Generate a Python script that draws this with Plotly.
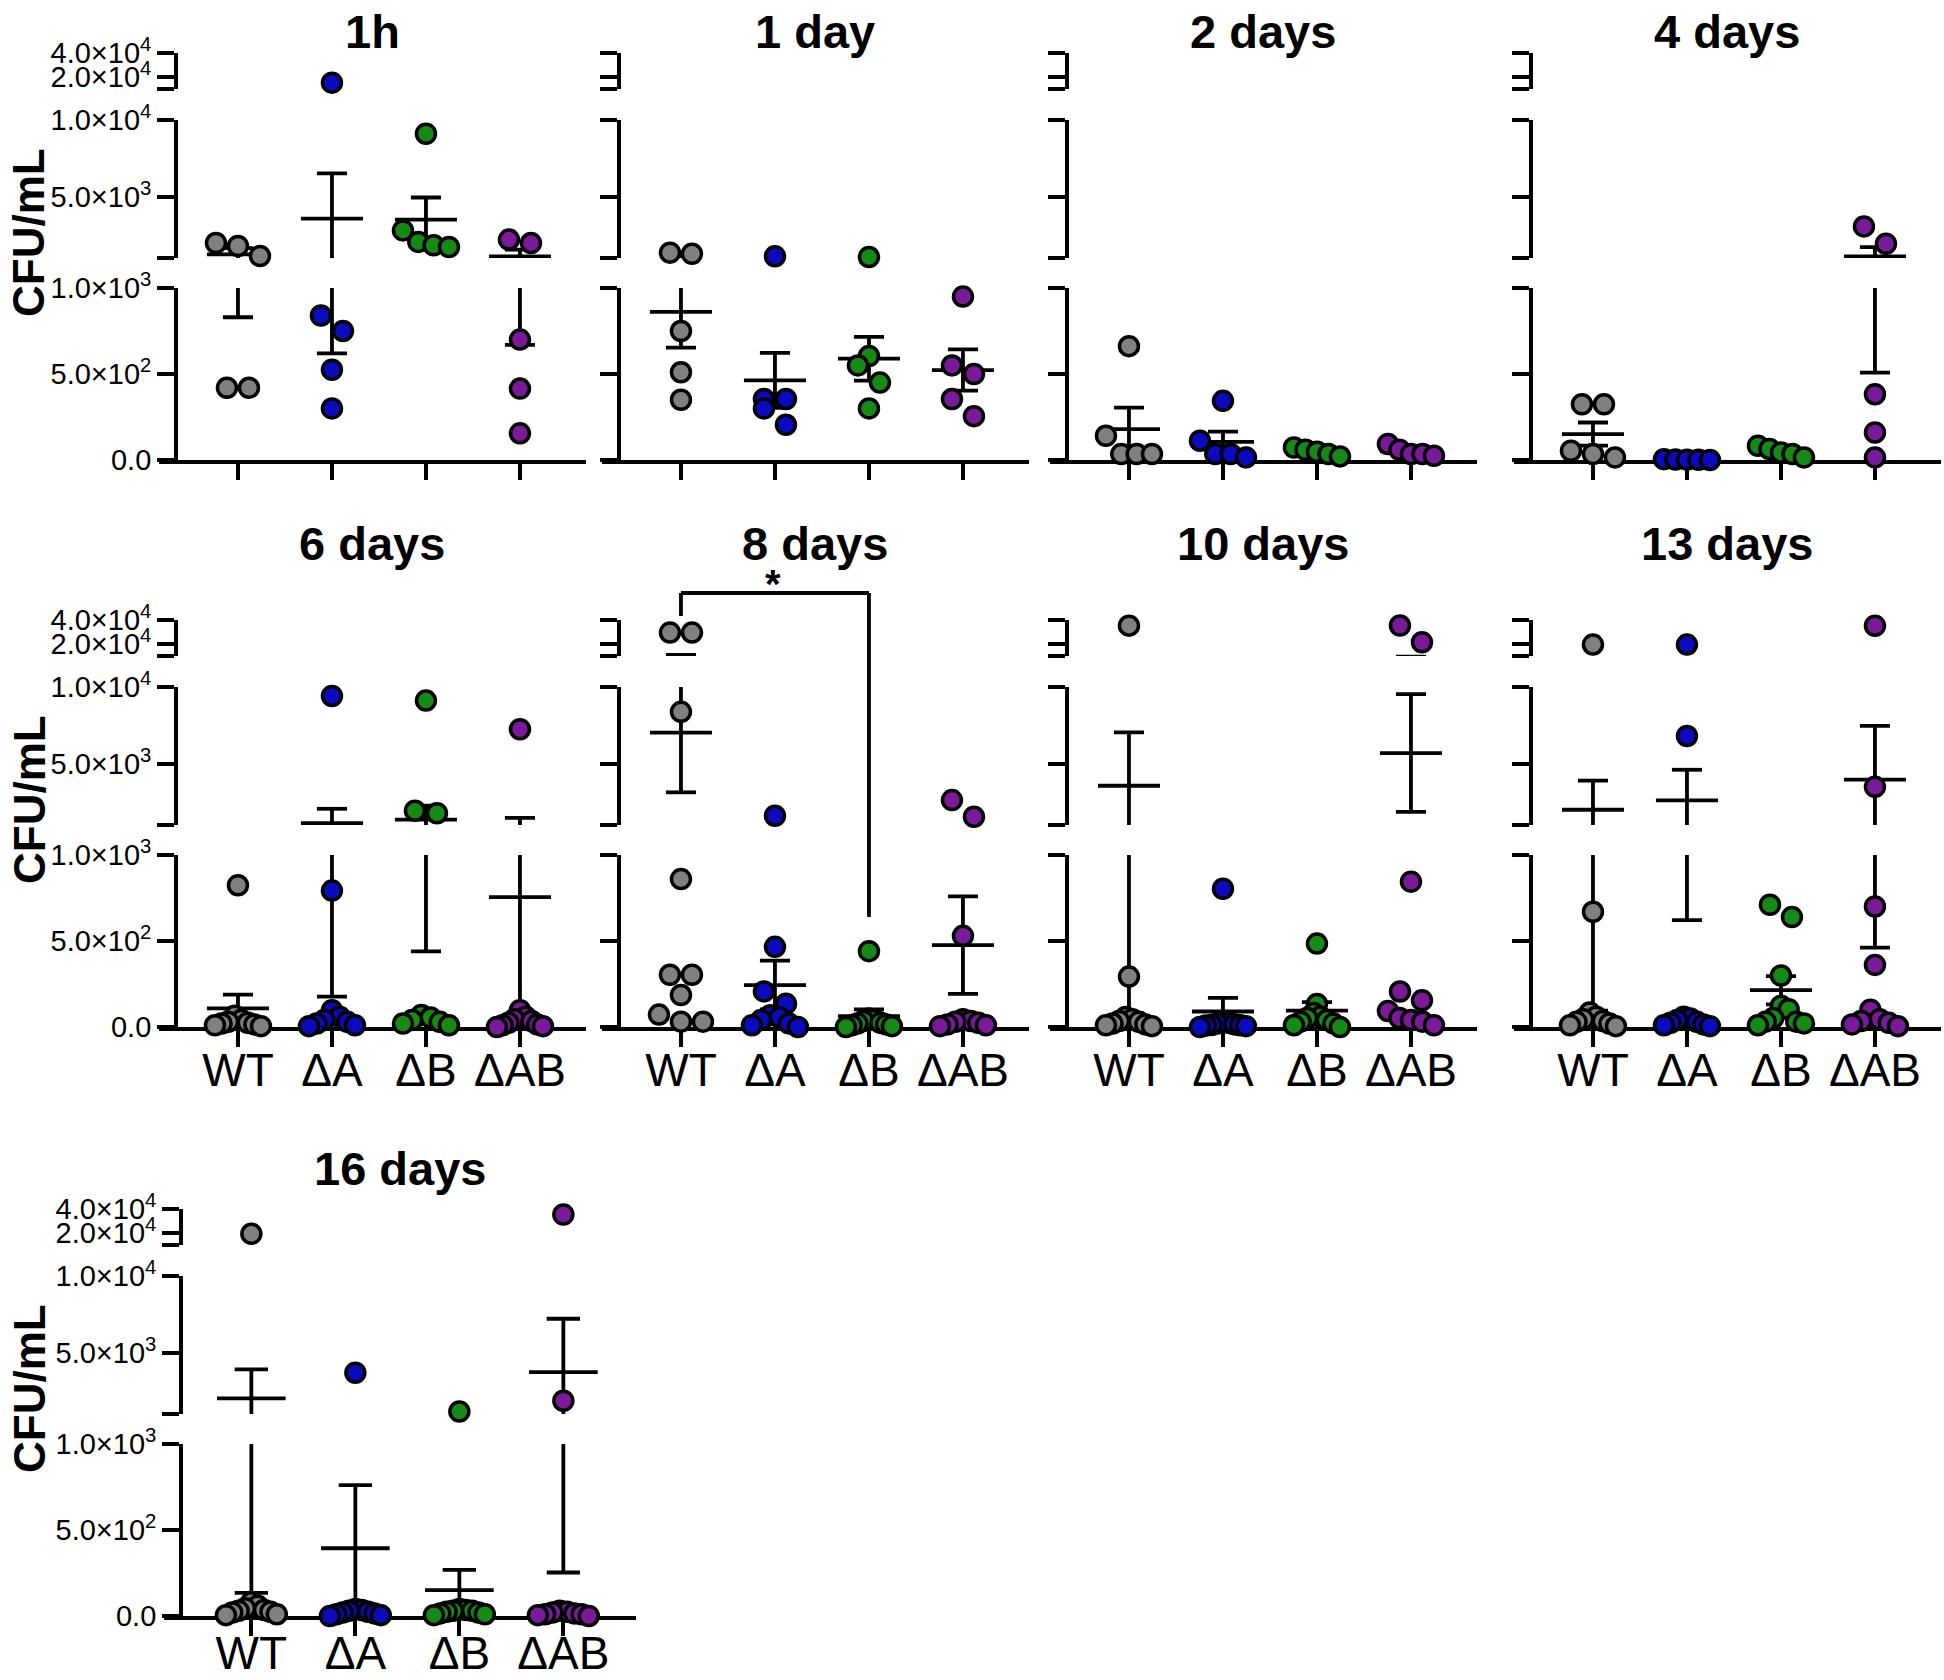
import plotly.graph_objects as go

timepoints = ["1h", "1 day", "2 days", "4 days", "6 days", "8 days", "10 days", "13 days", "16 days"]
strains = ["WT", "\u0394A", "\u0394B", "\u0394AB"]
colors = ["#808080", "#0a0ac0", "#158a15", "#7a1a9a"]

# CFU/mL per strain (WT, dA, dB, dAB) for every time point
cfu_1h = [[1980, 1780, 1130, 420, 420],
          [15300, 840, 750, 525, 300],
          [9100, 2800, 2050, 1830, 1720],
          [2200, 1980, 700, 415, 155]]
cfu_1d = [[1350, 1280, 750, 510, 350],
          [1110, 355, 300, 355, 205],
          [1065, 605, 550, 450, 300],
          [950, 550, 500, 355, 255]]
cfu_2d = [[662, 141, 35, 35, 35],
          [344, 112, 35, 35, 15],
          [73, 60, 48, 35, 21],
          [93, 60, 35, 35, 25]]
cfu_4d = [[324, 324, 54, 35, 15],
          [5, 3, 2, 1, 0],
          [83, 64, 44, 35, 15],
          [3060, 1930, 382, 160, 15]]
cfu_6d = [[824, 66, 40, 30, 25, 20, 15, 10, 5],
          [9415, 793, 97, 60, 40, 30, 20, 10, 5],
          [9112, 1930, 1770, 70, 55, 40, 30, 20, 10],
          [7247, 97, 60, 45, 35, 25, 15, 10, 5, 0]]
cfu_8d = [[29500, 29500, 8380, 860, 304, 304, 186, 72, 31, 31],
          [1600, 466, 207, 135, 68, 56, 41, 21, 10, 0],
          [441, 50, 40, 35, 25, 20, 15, 10, 5, 0],
          [2624, 1534, 530, 45, 35, 30, 25, 15, 10, 5]]
cfu_10d = [[35300, 293, 58, 45, 35, 30, 20, 15, 10, 5],
           [804, 30, 25, 20, 15, 12, 10, 8, 5, 0],
           [485, 134, 82, 60, 52, 40, 31, 21, 10, 0],
           [35400, 21450, 845, 206, 155, 93, 52, 41, 31, 10]]
cfu_13d = [[19500, 670, 85, 60, 45, 35, 30, 20, 10, 5],
           [19500, 6806, 60, 50, 40, 30, 25, 15, 10, 5],
           [711, 639, 299, 124, 103, 52, 31, 31, 21, 10],
           [35200, 3488, 701, 361, 100, 45, 35, 25, 15, 5]]
cfu_16d = [[19400, 80, 60, 45, 35, 30, 25, 20, 10, 5],
           [3688, 40, 35, 30, 25, 20, 15, 10, 5, 0],
           [1160, 40, 35, 30, 30, 25, 20, 15, 10, 5],
           [35400, 1866, 30, 25, 20, 15, 10, 10, 5, 0]]

# mean and SEM as drawn
mean_1h = [1240, 3570, 3505, 1109]
sem_1h = [410, 2950, 1440, 440]
mean_1d = [861, 463, 589, 523]
sem_1d = [208, 160, 127, 120]
mean_2d = [180, 105, 47, 50]
sem_2d = [125, 60, 9, 12]
mean_4d = [151, 2, 48, 1108]
sem_4d = [67, 1, 12, 600]
mean_6d = [108, 1117, 1350, 755]
sem_6d = [80, 940, 910, 712]
mean_8d = [7030, 244, 63, 476]
sem_8d = [3900, 142, 39, 283]
mean_10d = [3559, 90, 95, 5692]
sem_10d = [3480, 79, 50, 3840]
mean_13d = [1995, 2611, 214, 3962]
sem_13d = [1900, 1990, 82, 3500]
mean_16d = [2025, 394, 151, 3733]
sem_16d = [1890, 367, 117, 3480]

cfu = [cfu_1h, cfu_1d, cfu_2d, cfu_4d, cfu_6d, cfu_8d, cfu_10d, cfu_13d, cfu_16d]
means = [mean_1h, mean_1d, mean_2d, mean_4d, mean_6d, mean_8d, mean_10d, mean_13d, mean_16d]
sems = [sem_1h, sem_1d, sem_2d, sem_4d, sem_6d, sem_8d, sem_10d, sem_13d, sem_16d]

seg_ranges = [(0, 1000), (1000, 10000), (10000, 40000)]
seg_ticks = [[0, 500, 1000], [1000, 5000, 10000], [10000, 20000, 40000]]
seg_labels = [["0.0", "5.0\u00d710<sup>2</sup>", "1.0\u00d710<sup>3</sup>"],
              ["", "5.0\u00d710<sup>3</sup>", "1.0\u00d710<sup>4</sup>"],
              ["", "2.0\u00d710<sup>4</sup>", "4.0\u00d710<sup>4</sup>"]]

# ---- layout, in page pixels (body margin is removed below) ----
W, H = 1944, 1680
FONT = "Liberation Sans, Arial, sans-serif"
LW = 3.8
seg_px = [(460, 288), (258, 120), (89, 53)]   # (bottom, top) of each axis piece, row 1
row_dy = [0, 567, 1156]
col_x = [176, 619, 1067, 1531]
title_y = [31, 544, 1168]
ylab_x = 29
XR = (-0.84, 3.70)
MS = 19
ROW_H = 20
ROW_W = 46


def px_x(v):
    return v / W


def px_y(v):
    return 1 - v / H


def panel_geom(p):
    row, col = divmod(p, 4)
    if p == 8:
        return row, 181, 104.0
    return row, col_x[col], 94.0


def seg_of(v):
    return 0 if v <= 1000 else (1 if v <= 10000 else 2)


def to_px(v, row):
    k = seg_of(v)
    lo, hi = seg_ranges[k]
    b, t = seg_px[k]
    return b + row_dy[row] - (v - lo) / (hi - lo) * (b - t)


def dot_offsets(vals, ys, maxw):
    # group points into horizontal rows and centre every row on the category
    order = sorted(range(len(ys)), key=lambda i: -ys[i])
    rows, cur = [], []
    for i in order:
        if cur and ys[cur[0]] - ys[i] >= ROW_H:
            rows.append(cur)
            cur = []
        cur.append(i)
    if cur:
        rows.append(cur)
    offs = [0.0] * len(vals)
    for r in rows:
        n = len(r)
        if n == 1:
            continue
        step = min(MS + 3, maxw / (n - 1))
        r = sorted(r, key=lambda i: -vals[i])
        if n > 5:
            mid = []
            for j, i in enumerate(r):
                if j % 2:
                    mid.append(i)
                else:
                    mid.insert(0, i)
            r = mid
        for j, i in enumerate(r):
            offs[i] = (j - (n - 1) / 2) * step
    return offs


fig = go.Figure()
layout = {}
annotations = []

for p in range(9):
    row, yx, s = panel_geom(p)
    xname = "x" if p == 0 else f"x{p + 1}"
    x0 = yx - 17
    x1 = x0 + (XR[1] - XR[0]) * s
    ynames = []
    for k in range(3):
        idx = 3 * p + k + 1
        ynames.append("y" if idx == 1 else f"y{idx}")
        b, t = seg_px[k]
        layout["yaxis" if idx == 1 else f"yaxis{idx}"] = dict(
            domain=[px_y(b + row_dy[row]), px_y(t + row_dy[row])],
            range=list(seg_ranges[k]), anchor="free", position=px_x(yx),
            showline=True, linewidth=LW, linecolor="black",
            ticks="outside", ticklen=17, tickwidth=LW, tickcolor="black",
            tickmode="array", tickvals=seg_ticks[k],
            ticktext=seg_labels[k] if p % 4 == 0 else [""] * 3,
            tickfont=dict(size=29, color="black", family=FONT),
            showgrid=False, zeroline=False, layer="below traces",
            automargin=False, fixedrange=True)
    layout["xaxis" if p == 0 else f"xaxis{p + 1}"] = dict(
        domain=[px_x(x0), px_x(x1)], range=list(XR), anchor=ynames[0],
        showline=True, linewidth=LW, linecolor="black",
        ticks="outside", ticklen=16, tickwidth=LW, tickcolor="black",
        tickmode="array", tickvals=[0, 1, 2, 3], ticktext=strains,
        showticklabels=row > 0, ticklabelstandoff=-22 if row == 2 else -16,
        tickfont=dict(size=46, color="black", family=FONT),
        showgrid=False, zeroline=False, layer="below traces",
        automargin=False, fixedrange=True)

    # mean +/- SEM glyphs, drawn on every axis piece (each piece clips them)
    ex, ey = [], []
    for g in range(4):
        m, e = means[p][g], sems[p][g]
        ex += [g, g, None, g - 0.16, g + 0.16, None, g - 0.16, g + 0.16, None, g - 0.33, g + 0.33, None]
        ey += [m - e, m + e, None, m + e, m + e, None, m - e, m - e, None, m, m, None]
    for k in range(3):
        fig.add_trace(go.Scatter(x=ex, y=ey, mode="lines", xaxis=xname, yaxis=ynames[k],
                                 line=dict(color="black", width=LW),
                                 showlegend=False, hoverinfo="skip"))

    # individual points, spread like a dot plot
    for g in range(4):
        vals = cfu[p][g]
        ys = [to_px(v, row) for v in vals]
        offs = dot_offsets(vals, ys, ROW_W * s / 94.0)
        for k in range(3):
            sel = [i for i, v in enumerate(vals) if seg_of(v) == k]
            if not sel:
                continue
            fig.add_trace(go.Scatter(
                x=[g + offs[i] / s for i in sel], y=[vals[i] for i in sel],
                mode="markers", xaxis=xname, yaxis=ynames[k], cliponaxis=False,
                marker=dict(size=MS, color=colors[g], line=dict(color="black", width=3.5)),
                showlegend=False, hoverinfo="skip"))

    annotations.append(dict(text=f"<b>{timepoints[p]}</b>", xref="paper", yref="paper",
                            x=px_x((x0 + x1) / 2), y=px_y(title_y[row]),
                            xanchor="center", yanchor="middle", showarrow=False,
                            font=dict(size=47, color="black", family=FONT)))
    if p % 4 == 0:
        annotations.append(dict(text="<b>CFU/mL</b>", xref="paper", yref="paper",
                                x=px_x(ylab_x), y=px_y(233 + row_dy[row]), textangle=-90,
                                xanchor="center", yanchor="middle", showarrow=False,
                                font=dict(size=44, color="black", family=FONT)))

# significance bracket, 8 days: WT vs dB
shapes = [
    dict(type="line", xref="x6", yref="paper", x0=0, x1=2, y0=px_y(593), y1=px_y(593),
         line=dict(color="black", width=LW)),
    dict(type="line", xref="x6", yref="paper", x0=0, x1=0, y0=px_y(593), y1=px_y(616),
         line=dict(color="black", width=LW)),
    dict(type="line", xref="x6", yref="paper", x0=2, x1=2, y0=px_y(593), y1=px_y(917),
         line=dict(color="black", width=LW)),
]
annotations.append(dict(text="<b>*</b>", xref="x6", yref="paper", x=0.98, y=px_y(584),
                        xanchor="center", yanchor="middle", showarrow=False,
                        font=dict(size=40, color="black", family=FONT)))

fig.update_layout(**layout)
fig.update_layout(width=W, height=H, margin=dict(l=0, r=0, t=0, b=0, autoexpand=False),
                  paper_bgcolor="white", plot_bgcolor="white",
                  annotations=annotations, shapes=shapes, showlegend=False)

fig.write_html("out.html", config={"displayModeBar": False},
               post_script="document.body.style.margin = '0';")
